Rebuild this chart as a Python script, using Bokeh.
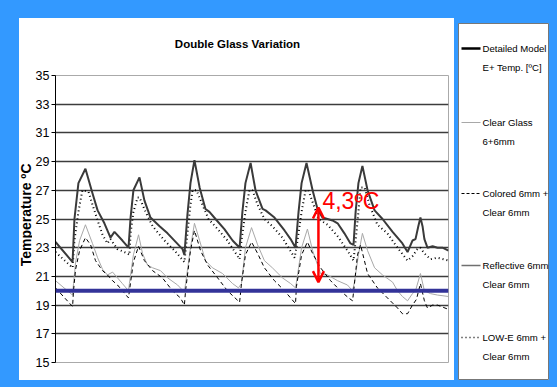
import math
from bokeh.plotting import figure
from bokeh.models import (Range1d, FixedTicker, Span, Arrow, OpenHead, Label, Row, Column,
                          ColumnDataSource)
from bokeh.embed import file_html
from bokeh.resources import INLINE
from bokeh.core.properties import value

# ---------------- data (hour of week -> temperature, degC) ----------------
y_ticks = [15, 17, 19, 21, 23, 25, 27, 29, 31, 33, 35]

detailed_h = [0, 7.3, 8.1, 9.8, 12.8, 15.8, 18.0, 20.9, 23.5, 25.2, 28.6, 31.2, 32.1, 33.3,
              35.9, 38.0, 40.6, 44.5, 47.9, 54.3, 55.1, 56.4, 57.7, 59.4, 61.6, 64.1, 65.8,
              68.4, 72.2, 75.7, 78.7, 79.9, 81.2, 83.4, 85.5, 88.5, 89.8, 93.6, 97.9, 100.5,
              102.6, 103.9, 105.2, 107.3, 109.9, 112.0, 114.1, 118.4, 120.6, 123.5, 126.1,
              127.4, 128.3, 129.5, 131.2, 133.4, 136.4, 139.8, 144.1, 148.3, 150.5, 152.6,
              153.9, 155.1, 156.0, 156.9, 157.7, 159.0, 161.2, 163.3, 165.4, 168.0]
detailed_t = [23.4, 22.0, 25.0, 27.5, 28.5, 26.8, 25.6, 24.7, 23.7, 24.1, 23.5, 23.0, 25.1, 27.0,
              27.9, 26.3, 25.1, 24.5, 24.0, 22.9, 22.5, 25.3, 27.5, 29.1, 27.2, 25.7, 25.5,
              25.0, 24.3, 23.5, 23.0, 25.5, 27.5, 28.9, 27.0, 25.7, 25.6, 25.1, 24.2, 23.6,
              23.0, 25.5, 27.5, 28.9, 27.0, 25.7, 25.1, 24.9, 24.7, 24.0, 23.3,
              23.2, 25.5, 27.5, 28.7, 27.0, 25.6, 25.0, 24.1, 23.3, 22.7, 23.5,
              23.6, 24.5, 25.1, 24.5, 23.6, 23.0, 23.1, 23.0, 23.0, 22.8]

lowe_h = [0, 7.3, 8.1, 9.8, 11.5, 14.1, 15.8, 18.0, 20.1, 22.2, 23.5, 26.5, 30.8, 31.6, 32.1,
          33.3, 35.1, 35.9, 38.5, 41.5, 46.6, 50.9, 55.1, 56.4, 57.7, 58.6, 60.3, 62.8, 65.4,
          69.3, 73.5, 78.7, 79.5, 81.2, 82.9, 84.2, 86.4, 89.3, 92.7, 97.0, 102.2, 103.0,
          105.2, 106.9, 108.1, 110.3, 112.4, 116.3, 120.6, 124.8, 127.4, 128.3, 129.5, 130.4,
          132.1, 134.2, 137.6, 141.9, 146.2, 150.5, 152.6, 154.7, 156.0, 157.7, 160.3, 163.3,
          168.0]
lowe_t = [22.7, 21.6, 23.5, 25.5, 27.0, 26.9, 26.0, 24.9, 23.9, 23.3, 23.6, 22.9, 22.6, 22.5, 24.0,
          25.5, 26.5, 26.5, 25.5, 24.5, 23.5, 22.8, 22.0, 24.0, 26.0, 27.0, 27.0, 26.0, 25.0,
          24.3, 23.5, 22.2, 23.5, 25.5, 27.0, 27.0, 26.0, 25.0, 24.5, 23.7, 22.3, 23.0,
          25.5, 27.0, 27.0, 26.0, 25.0, 24.6, 23.8, 22.8, 22.1, 23.5, 25.5, 27.2,
          27.2, 26.0, 24.6, 24.0, 23.0, 22.1, 22.4, 22.9, 23.0, 22.6, 22.2, 22.3,
          22.1]

clear_h = [0, 7.3, 7.7, 8.6, 10.3, 12.8, 15.8, 18.0, 20.1, 22.2, 24.4, 26.5, 28.6, 31.2, 31.6,
           33.3, 35.5, 37.2, 39.3, 41.5, 44.9, 47.9, 52.2, 55.1, 55.6, 57.7, 59.4, 61.6, 64.1,
           67.1, 71.4, 75.7, 78.2, 79.5, 81.2, 83.8, 86.4, 89.3, 92.7, 97.0, 100.5, 102.6,
           103.0, 105.2, 107.7, 109.9, 113.3, 116.3, 120.6, 124.8, 127.0, 127.8, 129.5, 131.2,
           133.4, 136.4, 139.8, 144.1, 146.2, 148.3, 150.5, 152.6, 153.9, 156.0, 157.7, 160.3,
           163.3, 168.0]
clear_t = [20.7, 19.7, 20.5, 22.0, 23.5, 24.6, 23.3, 22.3, 21.5, 21.1, 21.3, 20.9, 20.5, 20.0, 20.5,
           22.5, 23.9, 22.6, 21.8, 21.6, 21.4, 20.9, 20.4, 19.9, 20.5, 23.0, 24.7, 23.5, 22.1,
           21.6, 21.2, 20.5, 20.2, 20.5, 23.0, 24.4, 23.2, 22.1, 21.6, 20.9, 20.5, 20.2,
           20.6, 23.0, 24.3, 22.8, 21.2, 21.1, 20.7, 20.4, 20.0, 20.6, 22.5, 24.0,
           22.8, 21.6, 21.1, 20.6, 20.0, 19.6, 19.3, 19.8, 20.0, 21.2, 20.0, 19.8,
           19.7, 19.6]

colored_h = [0, 7.3, 7.7, 8.6, 10.3, 12.8, 15.0, 17.1, 20.1, 22.2, 24.4, 26.5, 28.6, 31.2, 31.6,
             33.3, 35.5, 38.0, 41.5, 45.7, 50.0, 53.4, 55.1, 55.6, 57.7, 59.4, 62.0, 65.0, 69.3,
             73.5, 78.7, 79.5, 81.2, 83.8, 86.4, 89.3, 93.6, 97.9, 100.5, 102.6, 103.0, 105.2,
             107.7, 109.9, 113.3, 117.6, 121.8, 125.3, 127.0, 127.8, 129.1, 130.4, 133.4, 137.6,
             141.9, 146.2, 148.3, 150.5, 152.6, 154.3, 156.0, 157.7, 159.0, 161.2, 163.3, 168.0]
colored_t = [20.2, 18.9, 20.0, 21.5, 22.8, 23.7, 23.2, 22.1, 21.4, 21.1, 20.7, 20.4, 20.0, 19.5, 20.0,
             22.0, 23.1, 22.1, 21.4, 20.9, 20.0, 19.5, 19.0, 20.0, 22.8, 24.2, 22.8, 21.8, 20.9,
             20.0, 19.2, 20.5, 22.5, 23.4, 22.6, 21.6, 20.7, 20.0, 19.5, 19.1, 20.3, 22.5,
             23.4, 22.6, 21.6, 20.7, 20.0, 19.5, 19.3, 20.5, 22.5, 23.2, 21.2, 20.2,
             19.5, 18.8, 18.4, 18.4, 19.0, 19.4, 20.5, 19.3, 18.8, 19.0, 19.0, 18.7]

comfort_limit = 20.0
delta_label = "4,3ºC"
delta_hour = 112.4
delta_top = 25.8
delta_bottom = 20.6

chart_title = "Double Glass Variation"
y_title = "Temperature ºC"
legend_labels = [("Detailed Model", "E+ Temp. [ºC]"),
                 ("Clear Glass", "6+6mm"),
                 ("Colored 6mm +", "Clear 6mm"),
                 ("Reflective 6mm", "Clear 6mm"),
                 ("LOW-E 6mm +", "Clear 6mm")]

BLUE = "#3399FF"
FONT = "Liberation Sans"


def blank(width, height, xr, yr, outline=None):
    f = figure(width=width, height=height, output_backend="svg", toolbar_location=None,
               x_range=xr, y_range=yr, min_border=0, min_border_left=0, min_border_right=0,
               min_border_top=0, min_border_bottom=0, background_fill_color="white",
               border_fill_color="white", outline_line_color=outline)
    f.xaxis.visible = False
    f.yaxis.visible = False
    f.grid.visible = False
    return f


# ---------------- title strip ----------------
tfig = blank(433, 48, Range1d(0, 433), Range1d(48, 0))
tfig.text(x=[218], y=[25], text=[chart_title], text_font=value(FONT), text_font_style="bold",
          text_font_size="11.5px", text_align="center", text_baseline="middle",
          text_color="black")

# ---------------- y-axis title strip ----------------
yfig = blank(13, 314, Range1d(0, 13), Range1d(0, 314))
yfig.text(x=[6], y=[161.5], text=[y_title], text_font=value(FONT), text_font_style="bold",
          text_font_size="14px", text_align="center", text_baseline="middle",
          angle=math.pi / 2, text_color="black")

# ---------------- chart ----------------
p = figure(frame_width=393, frame_height=287, output_backend="svg", toolbar_location=None,
           x_range=Range1d(0, 168), y_range=Range1d(15, 35),
           min_border_left=21, min_border_right=6, min_border_top=9, min_border_bottom=18,
           background_fill_color="white", border_fill_color="white",
           outline_line_color="#AAAAAA", outline_line_width=1)

p.xaxis.visible = False
p.xgrid.visible = False
p.yaxis.ticker = FixedTicker(ticks=y_ticks)
p.ygrid.ticker = FixedTicker(ticks=y_ticks)
p.ygrid.grid_line_color = "#3c3c3c"
p.ygrid.grid_line_width = 1.6
p.yaxis.axis_line_color = "black"
p.yaxis.axis_line_width = 1
p.yaxis.major_tick_line_color = "black"
p.yaxis.major_tick_out = 4
p.yaxis.major_tick_in = 0
p.yaxis.minor_tick_line_color = None
p.yaxis.major_label_text_font = FONT
p.yaxis.major_label_text_font_size = "12.5px"
p.yaxis.major_label_text_color = "black"
p.yaxis.major_label_standoff = 2

p.line(clear_h, clear_t, line_color="#A8A8A8", line_width=1)
p.line(colored_h, colored_t, line_color="black", line_width=1, line_dash="4 3")
p.line(lowe_h, lowe_t, line_color="black", line_width=2, line_dash="1 3")
p.line(detailed_h, detailed_t, line_color="#3a3a3a", line_width=2)

p.add_layout(Span(location=comfort_limit, dimension="width", line_color="#333399",
                  line_width=4))
p.add_layout(Arrow(x_start=delta_hour, y_start=delta_bottom, x_end=delta_hour, y_end=delta_top,
                   line_color="red", line_width=2.5,
                   start=OpenHead(size=11, line_color="red", line_width=2.5),
                   end=OpenHead(size=11, line_color="red", line_width=2.5)))
p.add_layout(Label(x=114.1, y=26.25, text=delta_label, text_color="red",
                   text_font=FONT, text_font_size="23px",
                   text_baseline="middle"))

# ---------------- legend panel ----------------
leg = blank(91, 357, Range1d(0, 91), Range1d(357, 0), outline="#777777")
leg.margin = (23, 0, 0, 4)

entry_y = [25, 99, 170, 242, 314]
styles = [dict(line_color="black", line_width=2.5),
          dict(line_color="#A8A8A8", line_width=1),
          dict(line_color="black", line_width=1, line_dash="3 2"),
          dict(line_color="#707070", line_width=1.5),
          dict(line_color="black", line_width=1.5, line_dash="1 3")]
for (l1, l2), yy, st in zip(legend_labels, entry_y, styles):
    leg.segment(x0=[3], y0=[yy], x1=[22], y1=[yy], **st)
    src = ColumnDataSource(dict(x=[24, 24], y=[yy, yy + 19], t=[l1, l2]))
    leg.text(x="x", y="y", text="t", source=src, text_font=value(FONT),
             text_font_size="9.6px", text_baseline="middle", text_color="black")

inner = Row(children=[yfig, p], spacing=0, styles={"background-color": "white"})
panel = Column(children=[tfig, inner], spacing=0, styles={"background-color": "white"})
panel.margin = (18, 0, 0, 19)
layout = Row(children=[panel, leg], spacing=0, styles={"background-color": BLUE})

template = """
{% block preamble %}<style>html, body { margin: 0; padding: 0; background: #3399FF; }</style>{% endblock %}
"""
open("out.html", "w").write(file_html(layout, INLINE, template=template))
